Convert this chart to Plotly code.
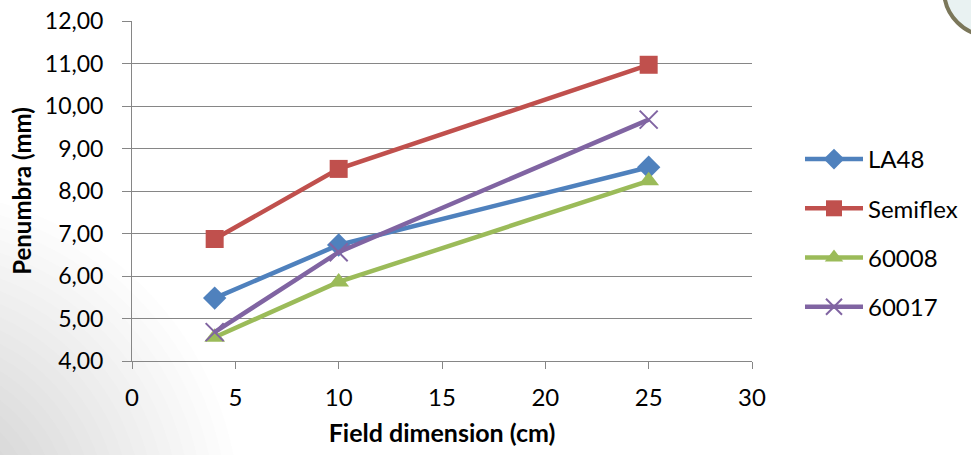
import plotly.graph_objects as go

field_cm = [4, 10, 25]
series_names = ["LA48", "Semiflex", "60008", "60017"]
la48 = [5.48, 6.73, 8.56]
semiflex = [6.87, 8.52, 10.97]
p60008 = [4.56, 5.86, 8.24]
p60017 = [4.68, 6.56, 9.68]
y_ticks = [4, 5, 6, 7, 8, 9, 10, 11, 12]
x_ticks = [0, 5, 10, 15, 20, 25, 30]

colors = ["#4F81BD", "#C0504D", "#9BBB59", "#8064A2"]
symbols = ["diamond", "square", "triangle-up", "x-thin-open"]
sizes = [18, 18, 18, 18]
values = [la48, semiflex, p60008, p60017]

L, R, T, B = 132, 752, 21, 361
PW, PH = R - L, B - T


def px_to_paper(x, y):
    return (x - L) / PW, (B - y) / PH


fig = go.Figure()
for i, (name, vals) in enumerate(zip(series_names, values)):
    marker = dict(symbol=symbols[i], size=sizes[i], color=colors[i])
    if symbols[i] == "x-thin-open":
        marker["line"] = dict(width=2, color=colors[i])
    fig.add_trace(go.Scatter(
        x=field_cm, y=vals, name=name, mode="lines+markers",
        line=dict(color=colors[i], width=4.5),
        marker=marker, legendgroup=name,
    ))

shapes = []
# soft grey gradient at lower-left corner
gcx, gcy = -90, 520
for k in range(24):
    r = 330 - k * 12
    x0, y0 = px_to_paper(gcx - r, gcy + r)
    x1, y1 = px_to_paper(gcx + r, gcy - r)
    shapes.append(dict(type="circle", xref="paper", yref="paper", layer="below",
                       x0=x0, x1=x1, y0=y0, y1=y1,
                       fillcolor="rgba(130,130,130,0.018)", line=dict(width=0)))
# circle at top right
cx, cy, rad = 990, -10, 46
x0, y0 = px_to_paper(cx - rad, cy + rad)
x1, y1 = px_to_paper(cx + rad, cy - rad)
shapes.append(dict(type="circle", xref="paper", yref="paper", layer="above",
                   x0=x0, x1=x1, y0=y0, y1=y1,
                   fillcolor="#E9F2F2", line=dict(color="#7B775A", width=4)))

fig.update_layout(
    width=971, height=455,
    margin=dict(l=L, r=971 - R, t=T, b=455 - B, autoexpand=False),
    paper_bgcolor="white", plot_bgcolor="rgba(0,0,0,0)",
    separators=",.",
    font=dict(family="Lato, 'Open Sans', sans-serif", size=24, color="#000000"),
    showlegend=True,
    legend=dict(x=(800 - L) / PW, y=(B - 137) / PH, xanchor="left", yanchor="top",
                font=dict(size=24), tracegroupgap=15, traceorder="grouped",
                itemwidth=58, bgcolor="rgba(0,0,0,0)"),
    shapes=shapes,
    xaxis=dict(range=[0, 30], tickvals=x_ticks, showgrid=False, zeroline=False,
               showline=True, linecolor="#868686", linewidth=1, automargin=False,
               ticks="outside", ticklen=7, tickcolor="#868686", ticklabelstandoff=8,
               title=dict(text="<b>Field dimension (cm)</b>", font=dict(size=25), standoff=14),
               tickfont=dict(size=24)),
    yaxis=dict(range=[4, 12], tickvals=y_ticks, tickformat=".2f", showgrid=True,
               gridcolor="#868686", gridwidth=1, zeroline=False, automargin=False,
               showline=True, linecolor="#868686", linewidth=1,
               ticks="outside", ticklen=9, tickcolor="#868686", ticklabelstandoff=14,
               title=dict(text="<b>Penumbra (mm)</b>", font=dict(size=24), standoff=6),
               tickfont=dict(size=23)),
)
fig.write_html("out.html")
